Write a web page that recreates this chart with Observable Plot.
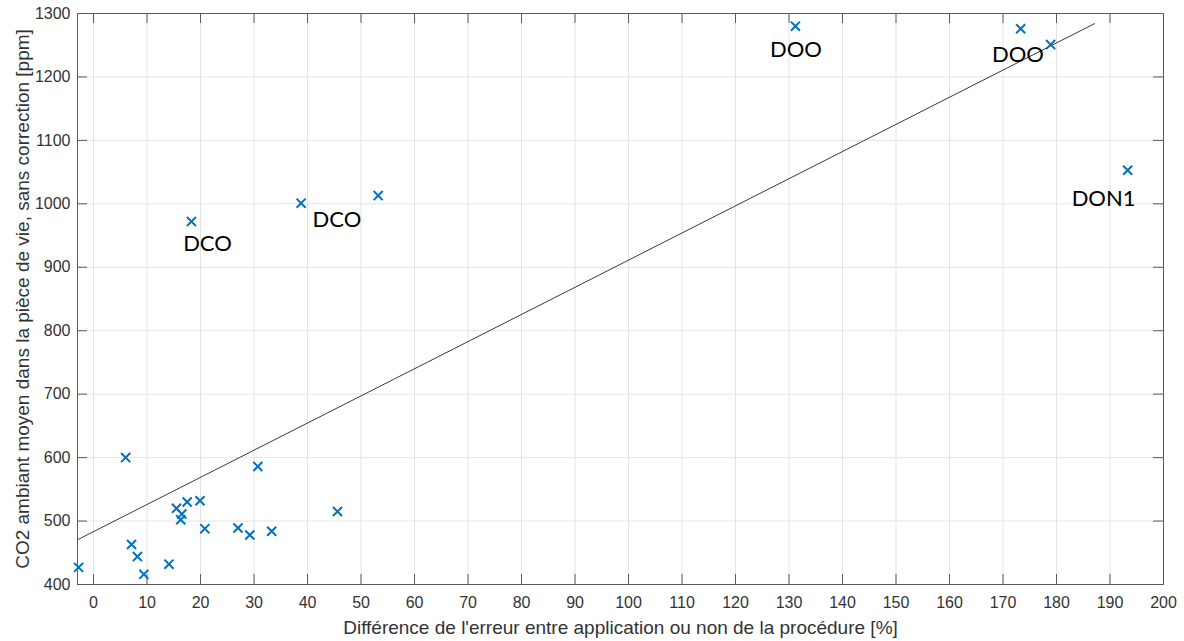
<!DOCTYPE html>
<html>
<head>
<meta charset="utf-8">
<script src="https://cdn.jsdelivr.net/npm/d3@7"></script>
<script src="https://cdn.jsdelivr.net/npm/@observablehq/plot@0.6"></script>
<style>
  html, body { margin: 0; padding: 0; background: #fff; }
</style>
</head>
<body>
<div id="chart"></div>
<script>
// Measured points: x = difference of error [%], y = mean ambient CO2 [ppm]
const diffPct = [-2.8, 6.0, 7.1, 8.2, 9.4, 14.1, 15.5, 16.5, 16.3, 17.5, 19.9, 20.8, 27.0, 29.2, 30.7, 33.3, 45.6,
                 18.3, 38.8, 53.2, 131.2, 173.3, 178.9, 193.3];
const co2Ppm  = [427, 600, 463, 444, 416, 432, 520, 511, 502, 530, 532, 488, 489, 478, 586, 484, 515,
                 972, 1001, 1013, 1280, 1276, 1251, 1053];

// Fitted trend line endpoints
const fitX = [-3, 187.1];
const fitY = [470.5, 1284];

// Annotations
const noteText = ["DCO", "DCO", "DOO", "DOO", "DON1"];
const noteX = [21.3, 45.5, 131.3, 172.8, 188.8];
const noteY = [936, 975, 1243, 1234, 1007];

// Ticks and axis titles
const xTicks = d3.range(0, 201, 10);
const yTicks = d3.range(400, 1301, 100);
const xTitle = "Différence de l'erreur entre application ou non de la procédure [%]";
const yTitle = "CO2 ambiant moyen dans la pièce de vie, sans correction [ppm]";

const points = diffPct.map((x, i) => ({x, y: co2Ppm[i]}));
const fit = fitX.map((x, i) => ({x, y: fitY[i]}));
const notes = noteText.map((t, i) => ({t, x: noteX[i], y: noteY[i]}));

const W = 1184, H = 641;
const mL = 77, mR = 21, mT = 13, mB = 57;
const pw = W - mL - mR, ph = H - mT - mB;
const axisColor = "#5a5a5a";
const textColor = "#333";
const tickLen = 10;

const chart = Plot.plot({
  width: W,
  height: H,
  marginLeft: mL,
  marginRight: mR,
  marginTop: mT,
  marginBottom: mB,
  style: {fontFamily: "'Liberation Sans', Arial, sans-serif", background: "#fff"},
  x: {domain: [-3, 200]},
  y: {domain: [400, 1300]},
  marks: [
    Plot.gridX(xTicks, {stroke: "#e3e3e3", strokeOpacity: 1}),
    Plot.gridY(yTicks, {stroke: "#e3e3e3", strokeOpacity: 1}),
    // inward ticks on all four sides
    Plot.tickX(xTicks, {x: d => d, stroke: axisColor, insetTop: ph - tickLen}),
    Plot.tickX(xTicks, {x: d => d, stroke: axisColor, insetBottom: ph - tickLen}),
    Plot.tickY(yTicks, {y: d => d, stroke: axisColor, insetRight: pw - tickLen}),
    Plot.tickY(yTicks, {y: d => d, stroke: axisColor, insetLeft: pw - tickLen}),
    Plot.frame({stroke: axisColor}),
    Plot.axisX(xTicks, {
      anchor: "bottom", tickSize: 0, tickPadding: 12, fontSize: 16, color: textColor,
      tickFormat: d3.format("d"), label: null
    }),
    Plot.axisY(yTicks, {
      anchor: "left", tickSize: 0, tickPadding: 7, fontSize: 16, color: textColor,
      tickFormat: d3.format("d"), label: null
    }),
    Plot.text([xTitle], {text: d => d, frameAnchor: "bottom", dy: 43, fontSize: 19, fill: textColor,
      textAnchor: "middle", lineAnchor: "middle"}),
    Plot.text([yTitle], {text: d => d, frameAnchor: "left", dx: -55, rotate: -90, fontSize: 19, fill: textColor,
      textAnchor: "middle", lineAnchor: "middle"}),
    Plot.line(fit, {x: "x", y: "y", stroke: "#3a3a3a", strokeWidth: 1}),
    Plot.dot(points, {x: "x", y: "y", symbol: "times", r: 4.2, stroke: "#0072BD", strokeWidth: 2}),
    Plot.text(notes, {x: "x", y: "y", text: "t", fontSize: 22, fontFamily: "Lato, 'Open Sans', sans-serif",
      fill: "#000", textAnchor: "middle", lineAnchor: "middle"})
  ]
});

document.getElementById("chart").appendChild(chart);
</script>
</body>
</html>
